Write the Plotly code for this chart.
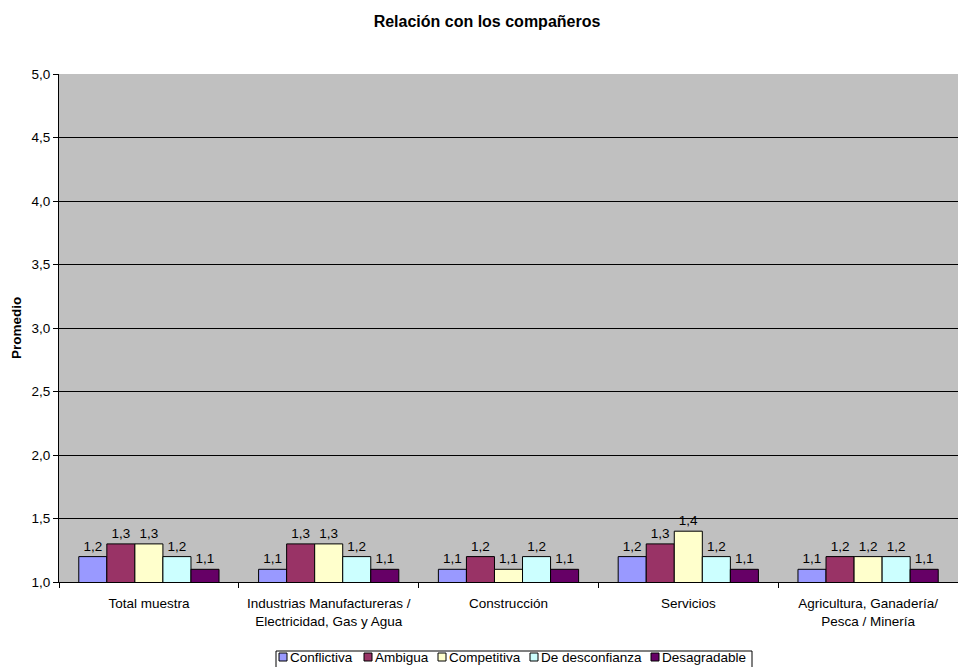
import plotly.graph_objects as go

categories = ["Total muestra",
              "Industrias Manufactureras /<br>Electricidad, Gas y Agua",
              "Construcción",
              "Servicios",
              "Agricultura, Ganadería/<br>Pesca / Minería"]
series_names = ["Conflictiva", "Ambigua", "Competitiva", "De desconfianza", "Desagradable"]
conflictiva = [1.2, 1.1, 1.1, 1.2, 1.1]
ambigua = [1.3, 1.3, 1.2, 1.3, 1.2]
competitiva = [1.3, 1.3, 1.1, 1.4, 1.2]
desconfianza = [1.2, 1.2, 1.2, 1.2, 1.2]
desagradable = [1.1, 1.1, 1.1, 1.1, 1.1]
series_values = [conflictiva, ambigua, competitiva, desconfianza, desagradable]
colors = ["#9999FF", "#993366", "#FFFFCC", "#CCFFFF", "#660066"]

FONT = "Arial, Liberation Sans, sans-serif"
FS = 13.5

W, H = 958, 667
ML, MR, MT, MB = 59, 0, 74, 85
PW = W - ML - MR
PH = H - MT - MB


def px2x(px):
    return (px - ML) / PW


def py2y(py):
    return (H - MB - py) / PH


fig = go.Figure()
for name, vals, col in zip(series_names, series_values, colors):
    fig.add_trace(go.Bar(
        x=categories, y=vals, name=name,
        marker=dict(color=col, line=dict(color="black", width=1)),
        text=[f"{v:.1f}".replace(".", ",") for v in vals],
        textposition="outside",
        textfont=dict(family=FONT, size=FS, color="black"),
        cliponaxis=False,
        showlegend=False,
    ))

# Custom compact legend (Excel-style) at the bottom
legend_sq_px = [279, 364, 438, 530, 651]
shapes = [dict(type="rect", xref="paper", yref="paper",
               x0=px2x(276), x1=px2x(752), y0=py2y(651), y1=py2y(670),
               line=dict(color="black", width=1), fillcolor="white", layer="above")]
annotations = []
for name, col, sx in zip(series_names, colors, legend_sq_px):
    shapes.append(dict(type="rect", xref="paper", yref="paper",
                       x0=px2x(sx), x1=px2x(sx + 8), y0=py2y(653), y1=py2y(661),
                       line=dict(color="black", width=1), fillcolor=col, layer="above"))
    annotations.append(dict(text=name, xref="paper", yref="paper",
                            x=px2x(sx + 9), y=py2y(657.5), xanchor="left", yanchor="middle",
                            showarrow=False, font=dict(family=FONT, size=FS, color="black")))

fig.update_layout(
    width=W, height=H,
    barmode="group", bargap=0.22, bargroupgap=0,
    plot_bgcolor="#C0C0C0", paper_bgcolor="white",
    margin=dict(l=ML, r=MR, t=MT, b=MB, autoexpand=False),
    font=dict(family=FONT, size=FS, color="black"),
    separators=",.",
    title=dict(text="<b>Relación con los compañeros</b>", x=487 / W, xanchor="center",
               y=1 - 21 / H, yanchor="middle", font=dict(size=16, family=FONT)),
    showlegend=False,
    shapes=shapes,
    annotations=annotations,
)
fig.update_yaxes(range=[1, 5], dtick=0.5, tickformat=".1f",
                 showgrid=True, gridcolor="black", gridwidth=1,
                 showline=True, linecolor="black", linewidth=1,
                 ticks="outside", ticklen=5, tickcolor="black",
                 tickfont=dict(size=FS),
                 title=dict(text="<b>Promedio</b>", font=dict(size=FS), standoff=6),
                 zeroline=False, automargin=False)
fig.update_xaxes(showline=True, linecolor="black", linewidth=1,
                 ticks="outside", ticklen=5, tickcolor="black", tickson="boundaries",
                 tickfont=dict(size=FS), ticklabelstandoff=9,
                 showgrid=False, automargin=False)

fig.write_html("out.html",
               config={"displayModeBar": False},
               post_script="document.body.style.margin='0';document.body.style.overflow='hidden';")
